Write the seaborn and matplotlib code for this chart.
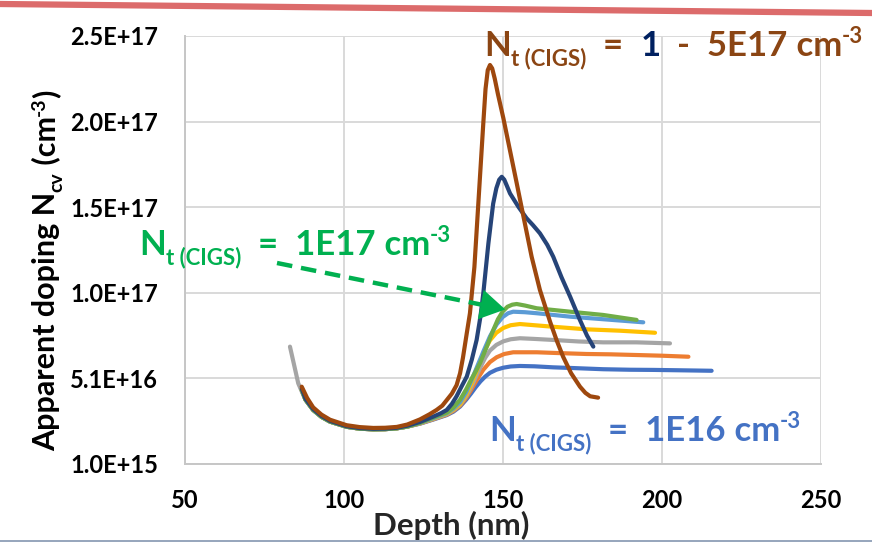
import matplotlib
matplotlib.use("Agg")
import matplotlib.pyplot as plt
import seaborn as sns
from matplotlib.ticker import FuncFormatter, FixedLocator
from matplotlib.lines import Line2D
from matplotlib.patches import FancyArrowPatch

# Depth (nm) and apparent doping (in units of 1E16 cm^-3) for each trap density
depth_1e16 = [86.8, 88.0, 90.4, 93.0, 95.7, 100.9, 105.0, 109.3, 113.0, 116.7, 120.0, 124.0, 128.0,
              132.4, 134.5, 136.6, 138.5, 140.0, 141.5, 143.0, 144.5, 146.0, 148.0, 150.2, 152.5,
              155.4, 160.0, 165.9, 172.0, 181.6, 190.0, 197.4, 205.0, 215.7]
ncv_1e16 = [4.42, 3.85, 3.25, 2.85, 2.57, 2.27, 2.16, 2.12, 2.13, 2.18, 2.28, 2.45, 2.68,
            2.95, 3.15, 3.45, 3.85, 4.20, 4.58, 4.92, 5.20, 5.42, 5.60, 5.72, 5.79,
            5.82, 5.80, 5.74, 5.70, 5.63, 5.60, 5.59, 5.57, 5.54]

depth_orange = [86.8, 88.0, 90.4, 93.0, 95.7, 100.9, 105.0, 109.3, 113.0, 116.7, 120.0, 124.0, 128.0,
                132.4, 134.5, 136.6, 138.5, 140.0, 142.0, 143.9, 146.0, 148.1, 150.5, 153.3, 160.7,
                168.0, 176.4, 184.0, 192.1, 200.0, 208.4]
ncv_orange = [4.42, 3.85, 3.25, 2.85, 2.57, 2.27, 2.16, 2.12, 2.13, 2.18, 2.28, 2.46, 2.70,
              2.98, 3.20, 3.50, 3.95, 4.40, 5.05, 5.60, 6.05, 6.33, 6.52, 6.62, 6.62,
              6.57, 6.52, 6.50, 6.46, 6.42, 6.36]

depth_gray = [83.1, 84.5, 85.7, 87.0, 88.0, 90.4, 93.0, 95.7, 100.9, 105.0, 109.3, 113.0, 116.7,
              120.0, 124.0, 128.0, 132.4, 134.5, 136.6, 138.5, 140.0, 141.5, 143.0, 144.5, 146.0,
              148.0, 150.2, 152.5, 155.4, 160.0, 165.9, 174.0, 181.6, 192.1, 202.6]
ncv_gray = [6.95, 5.80, 4.81, 4.25, 3.85, 3.25, 2.85, 2.57, 2.27, 2.16, 2.12, 2.13, 2.18,
            2.28, 2.47, 2.72, 3.00, 3.24, 3.55, 4.05, 4.55, 5.15, 5.75, 6.30, 6.72,
            7.05, 7.26, 7.38, 7.44, 7.40, 7.34, 7.25, 7.20, 7.20, 7.14]

depth_gold = [86.8, 88.0, 90.4, 93.0, 95.7, 100.9, 105.0, 109.3, 113.0, 116.7, 120.0, 124.0, 128.0,
              132.4, 134.5, 136.6, 138.5, 140.0, 141.5, 143.0, 144.5, 146.0, 148.0, 150.2, 152.5,
              155.4, 160.0, 165.9, 176.4, 186.9, 197.9]
ncv_gold = [4.42, 3.85, 3.25, 2.85, 2.57, 2.27, 2.16, 2.12, 2.13, 2.18, 2.28, 2.48, 2.74,
            3.03, 3.28, 3.60, 4.15, 4.72, 5.40, 6.10, 6.80, 7.32, 7.76, 8.04, 8.20,
            8.27, 8.20, 8.11, 7.96, 7.88, 7.76]

depth_ltblue = [86.8, 88.0, 90.4, 93.0, 95.7, 100.9, 105.0, 109.3, 113.0, 116.7, 120.0, 124.0, 128.0,
                132.4, 134.5, 136.6, 138.5, 140.0, 142.0, 144.0, 146.0, 148.1, 150.0, 151.7, 153.3,
                157.0, 160.7, 171.2, 181.6, 194.2]
ncv_ltblue = [4.42, 3.85, 3.25, 2.85, 2.57, 2.27, 2.16, 2.12, 2.13, 2.18, 2.28, 2.49, 2.76,
              3.06, 3.33, 3.70, 4.28, 4.90, 5.80, 6.70, 7.55, 8.25, 8.68, 8.90, 8.99,
              8.96, 8.90, 8.70, 8.55, 8.37]

depth_1e17 = [86.8, 88.0, 90.4, 93.0, 95.7, 100.9, 105.0, 109.3, 113.0, 116.7, 120.0, 124.0, 128.0,
              132.4, 134.5, 136.6, 138.5, 140.0, 141.5, 142.9, 145.0, 147.0, 148.5, 150.0, 151.5,
              153.0, 154.4, 157.0, 160.7, 171.2, 181.6, 192.1]
ncv_1e17 = [4.42, 3.85, 3.25, 2.85, 2.57, 2.27, 2.16, 2.12, 2.13, 2.18, 2.28, 2.50, 2.80,
            3.10, 3.40, 3.85, 4.45, 5.00, 5.50, 6.00, 6.95, 7.90, 8.55, 9.00, 9.28,
            9.40, 9.44, 9.35, 9.19, 8.99, 8.80, 8.51]

depth_navy = [86.8, 88.0, 90.4, 93.0, 95.7, 100.9, 105.0, 109.3, 113.0, 116.7, 120.0, 124.0, 128.0,
              130.5, 132.4, 134.0, 135.5, 137.0, 138.7, 140.3, 141.8, 143.0, 143.9, 145.5, 147.0,
              148.0, 148.9, 149.7, 150.5, 151.3, 152.3, 155.0, 157.5, 159.5, 161.7, 164.0, 165.9,
              168.5, 171.2, 174.3, 176.5, 178.5]
ncv_navy = [4.50, 3.90, 3.30, 2.90, 2.61, 2.30, 2.19, 2.15, 2.16, 2.21, 2.33, 2.55, 2.85,
            3.05, 3.25, 3.60, 4.05, 4.60, 5.20, 6.20, 7.34, 8.70, 10.06, 12.98, 15.30,
            16.20, 16.70, 16.87, 16.70, 16.35, 15.90, 15.10, 14.45, 14.05, 13.57, 12.90, 12.20,
            11.00, 9.87, 8.50, 7.60, 6.95]

depth_brown = [86.8, 88.5, 90.4, 93.0, 95.7, 100.9, 105.0, 109.3, 113.0, 116.7, 120.0, 124.0, 127.0,
               129.2, 131.0, 132.5, 134.0, 135.5, 136.6, 137.5, 138.7, 139.7, 141.1, 142.3, 143.9,
               144.6, 145.3, 146.0, 146.7, 147.5, 148.5, 150.2, 152.3, 154.4, 156.8, 159.1, 161.7,
               164.9, 167.0, 169.0, 171.5, 174.3, 176.0, 177.5, 180.0]
ncv_brown = [4.61, 3.95, 3.40, 2.98, 2.68, 2.36, 2.25, 2.20, 2.21, 2.26, 2.40, 2.70, 3.00,
             3.25, 3.50, 3.85, 4.20, 4.70, 5.40, 6.30, 7.73, 8.90, 11.60, 15.20, 20.00,
             22.00, 23.10, 23.40, 23.20, 22.60, 21.70, 20.30, 18.40, 16.50, 14.30, 12.20, 10.26,
             8.40, 7.30, 6.36, 5.40, 4.61, 4.25, 4.05, 3.97]

series = [
    (depth_1e16, ncv_1e16, "#4472C4"),
    (depth_orange, ncv_orange, "#ED7D31"),
    (depth_gray, ncv_gray, "#A5A5A5"),
    (depth_gold, ncv_gold, "#FFC000"),
    (depth_ltblue, ncv_ltblue, "#5B9BD5"),
    (depth_1e17, ncv_1e17, "#70AD47"),
    (depth_navy, ncv_navy, "#264478"),
    (depth_brown, ncv_brown, "#9E480E"),
]

y_ticks = [1.0e15, 5.1e16, 1.01e17, 1.51e17, 2.01e17, 2.51e17]
x_ticks = [50, 100, 150, 200, 250]

W, H = 872, 542
sns.set_theme(style="whitegrid")
plt.rcParams["font.family"] = ["Lato", "DejaVu Sans"]

fig = plt.figure(figsize=(W / 100, H / 100), dpi=100)
fig.patch.set_facecolor("white")
ax = fig.add_axes([184.7 / W, 1 - 463.9 / H, 636 / W, (463.9 - 35.9) / H])
ax.set_facecolor("white")

for xs, ys, col in series:
    sns.lineplot(x=xs, y=[v * 1e16 for v in ys], color=col, lw=3.0, ax=ax,
                 estimator=None, sort=False, solid_capstyle="round",
                 solid_joinstyle="round", legend=False)

ax.set_xlim(50, 250)
ax.set_ylim(y_ticks[0], y_ticks[-1])
ax.xaxis.set_major_locator(FixedLocator(x_ticks))
ax.yaxis.set_major_locator(FixedLocator(y_ticks))
ax.yaxis.set_major_formatter(FuncFormatter(lambda v, p: f"{v:.1E}"))
ax.grid(True, color="#D9D9D9", lw=1.4)
for side in ("top", "right"):
    ax.spines[side].set_visible(False)
for side in ("left", "bottom"):
    ax.spines[side].set_visible(True)
    ax.spines[side].set_color("#C6C6C6")
    ax.spines[side].set_linewidth(1.4)
ax.tick_params(axis="both", length=0, labelsize=17, colors="black")
ax.tick_params(axis="y", pad=19)
ax.tick_params(axis="x", pad=18)
for lab in ax.get_xticklabels() + ax.get_yticklabels():
    lab.set_fontweight("bold")
ax.set_xlabel("")
ax.set_ylabel("")

renderer = fig.canvas.get_renderer()


def text_run(pieces, x0, y0, vertical=False):
    """Write pieces (text, colour, size, rise in px) one after another on a shared baseline."""
    pos = x0 if not vertical else y0
    for s, c, size, rise in pieces:
        if vertical:
            t = fig.text((x0 - rise) / W, 1 - pos / H, s, color=c, fontsize=size,
                         fontweight="bold", ha="left", va="baseline", rotation=90,
                         rotation_mode="anchor")
            pos -= t.get_window_extent(renderer).height
        else:
            t = fig.text(pos / W, 1 - (y0 - rise) / H, s, color=c, fontsize=size,
                         fontweight="bold", ha="left", va="baseline")
            pos += t.get_window_extent(renderer).width


# axis titles
text_run([("Apparent doping N", "black", 22, 0), ("cv", "black", 14, -7),
          (" (cm", "black", 22, 0), ("-3", "black", 14, 10), (")", "black", 22, 0)],
         55, 451, vertical=True)
fig.text(451 / W, 1 - 535 / H, "Depth (nm)", ha="center", va="baseline",
         fontsize=22.5, fontweight="bold")

brown, navy, green, blue = "#8B4513", "#002060", "#00B050", "#4472C4"
BIG, SMALL = 25, 16


def trap_label(value_pieces, color, x0, y0):
    pieces = [("N", color, BIG, 0), ("t (CIGS)", color, SMALL, -9)]
    pieces += value_pieces
    pieces += [(" cm", color, BIG, 0), ("-3", color, SMALL, 13)]
    text_run(pieces, x0, y0)


trap_label([("  =  ", brown, BIG, 0), ("1", navy, BIG, 0), ("  -  5E17", brown, BIG, 0)],
           brown, 484, 56)
trap_label([("  =  1E17", green, BIG, 0)], green, 139, 255)
trap_label([("  =  1E16", blue, BIG, 0)], blue, 489, 441)

# dashed pointer to the 1E17 curve
tf = fig.transFigure
fig.add_artist(Line2D([277 / W, 492 / W], [1 - 263 / H, 1 - 306.8 / H], transform=tf,
                      color=green, lw=3.2, linestyle=(0, (3.5, 2))))
fig.add_artist(FancyArrowPatch(
    (487 / W, 1 - 305.8 / H), (508 / W, 1 - 310 / H), transform=tf,
    arrowstyle="-|>,head_length=1.0,head_width=0.6", mutation_scale=18,
    color=green, lw=0))

# slide decorations
fig.add_artist(Line2D([0, 1], [1 - 4 / H, 1 - 13 / H], transform=tf,
                      color="#DC6B6B", lw=4.5))
fig.add_artist(Line2D([0, 1], [1 - 540.5 / H, 1 - 540.5 / H], transform=tf,
                      color="#8496B0", lw=1.2))

fig.savefig("out.png", dpi=100, facecolor="white")
